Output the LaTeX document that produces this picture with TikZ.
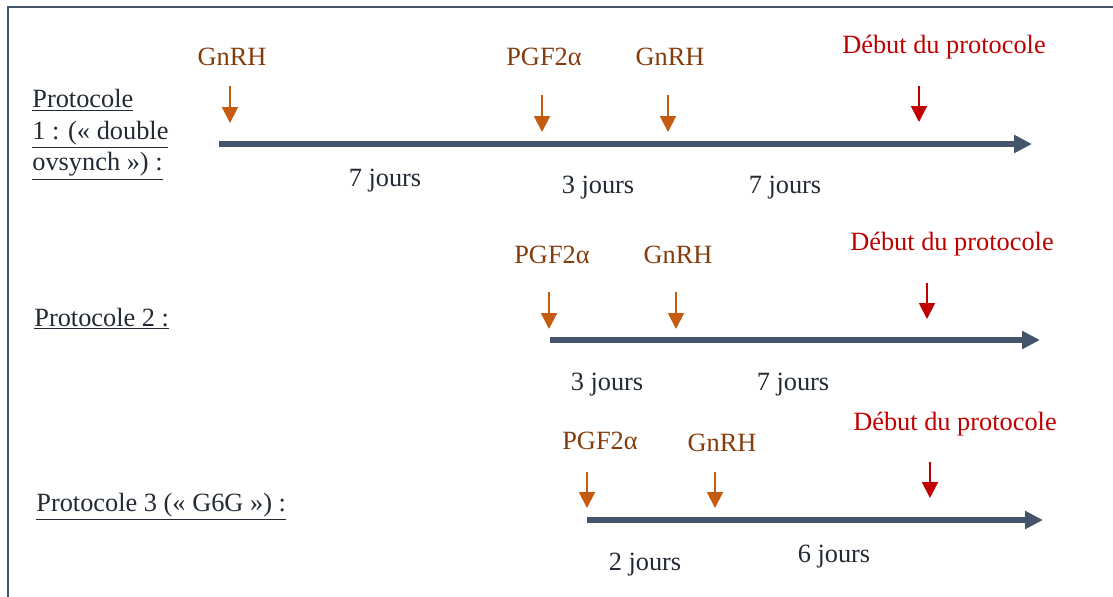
\documentclass[tikz,border=0pt]{standalone}
\usepackage{fontspec}
\setmainfont{Liberation Serif}
\usepackage{tikz}
\usetikzlibrary{arrows.meta}

\definecolor{ink}{HTML}{222A35}
\definecolor{axis}{HTML}{44546A}
\definecolor{drugtxt}{HTML}{843C0C}
\definecolor{drugarr}{HTML}{C55A11}
\definecolor{startred}{HTML}{C00000}

\begin{document}
\begin{tikzpicture}[x=0.02cm,y=-0.02cm,
  every node/.style={inner sep=0pt,anchor=base,font=\fontsize{15}{18}\selectfont},
  drug/.style={text=drugtxt},
  start/.style={text=startred},
  days/.style={text=ink},
  proto/.style={text=ink,anchor=base west},
  timeline/.style={draw=axis,line width=2.9pt,-{Triangle[width=9.8pt,length=10.2pt]}},
  shot/.style={draw=drugarr,line width=1.1pt,-{Triangle[width=9pt,length=9pt]}},
  go/.style={draw=startred,line width=1.1pt,-{Triangle[width=9pt,length=9pt]}}]
\useasboundingbox (0,0) rectangle (1113,596);
\clip (0,0) rectangle (1113,596);
\draw [axis,line width=1.2pt] (8,7) rectangle (1130,620);

% protocole 1
\node [text=ink,anchor=north west,align=left] (p1) at (32,89)
  {\underline{Protocole}\\\underline{1 : (« double}\\\underline{ovsynch ») :}};
\coordinate (t1s) at (219,144);
\coordinate (t1e) at (1032,144);
\draw [timeline] (t1s) -- (t1e);
\node [drug] (g1a) at (232,65) {GnRH};
\node [drug] (f1) at (544,65) {PGF2α};
\node [drug] (g1b) at (670,65) {GnRH};
\node [start] (d1) at (944,53) {Début du protocole};
\coordinate (a1t) at (230,86);  \coordinate (a1b) at (230,123);
\coordinate (b1t) at (542,95);  \coordinate (b1b) at (542,132);
\coordinate (c1t) at (668,95);  \coordinate (c1b) at (668,132);
\coordinate (e1t) at (919,86);  \coordinate (e1b) at (919,122);
\draw [shot] (a1t) -- (a1b);
\draw [shot] (b1t) -- (b1b);
\draw [shot] (c1t) -- (c1b);
\draw [go] (e1t) -- (e1b);
\node [days] (j1a) at (385,186) {7 jours};
\node [days] (j1b) at (598,193) {3 jours};
\node [days] (j1c) at (785,193) {7 jours};

% protocole 2
\node [proto] (p2) at (34,326) {\underline{Protocole 2 :}};
\coordinate (t2s) at (550,340);
\coordinate (t2e) at (1040,340);
\draw [timeline] (t2s) -- (t2e);
\node [drug] (f2) at (552,263) {PGF2α};
\node [drug] (g2) at (678,263) {GnRH};
\node [start] (d2) at (952,250) {Début du protocole};
\coordinate (b2t) at (549,292); \coordinate (b2b) at (549,329);
\coordinate (c2t) at (676,292); \coordinate (c2b) at (676,329);
\coordinate (e2t) at (927,283); \coordinate (e2b) at (927,319);
\draw [shot] (b2t) -- (b2b);
\draw [shot] (c2t) -- (c2b);
\draw [go] (e2t) -- (e2b);
\node [days] (j2a) at (607,390) {3 jours};
\node [days] (j2b) at (793,390) {7 jours};

% protocole 3
\node [proto] (p3) at (36,511) {\underline{Protocole 3 (« G6G ») :}};
\coordinate (t3s) at (587,520);
\coordinate (t3e) at (1043,520);
\draw [timeline] (t3s) -- (t3e);
\node [drug] (f3) at (600,449) {PGF2α};
\node [drug] (g3) at (722,451) {GnRH};
\node [start] (d3) at (955,430) {Début du protocole};
\coordinate (b3t) at (587,472); \coordinate (b3b) at (587,508);
\coordinate (c3t) at (715,472); \coordinate (c3b) at (715,508);
\coordinate (e3t) at (930,462); \coordinate (e3b) at (930,498);
\draw [shot] (b3t) -- (b3b);
\draw [shot] (c3t) -- (c3b);
\draw [go] (e3t) -- (e3b);
\node [days] (j3a) at (645,570) {2 jours};
\node [days] (j3b) at (834,562) {6 jours};
\end{tikzpicture}
\end{document}
